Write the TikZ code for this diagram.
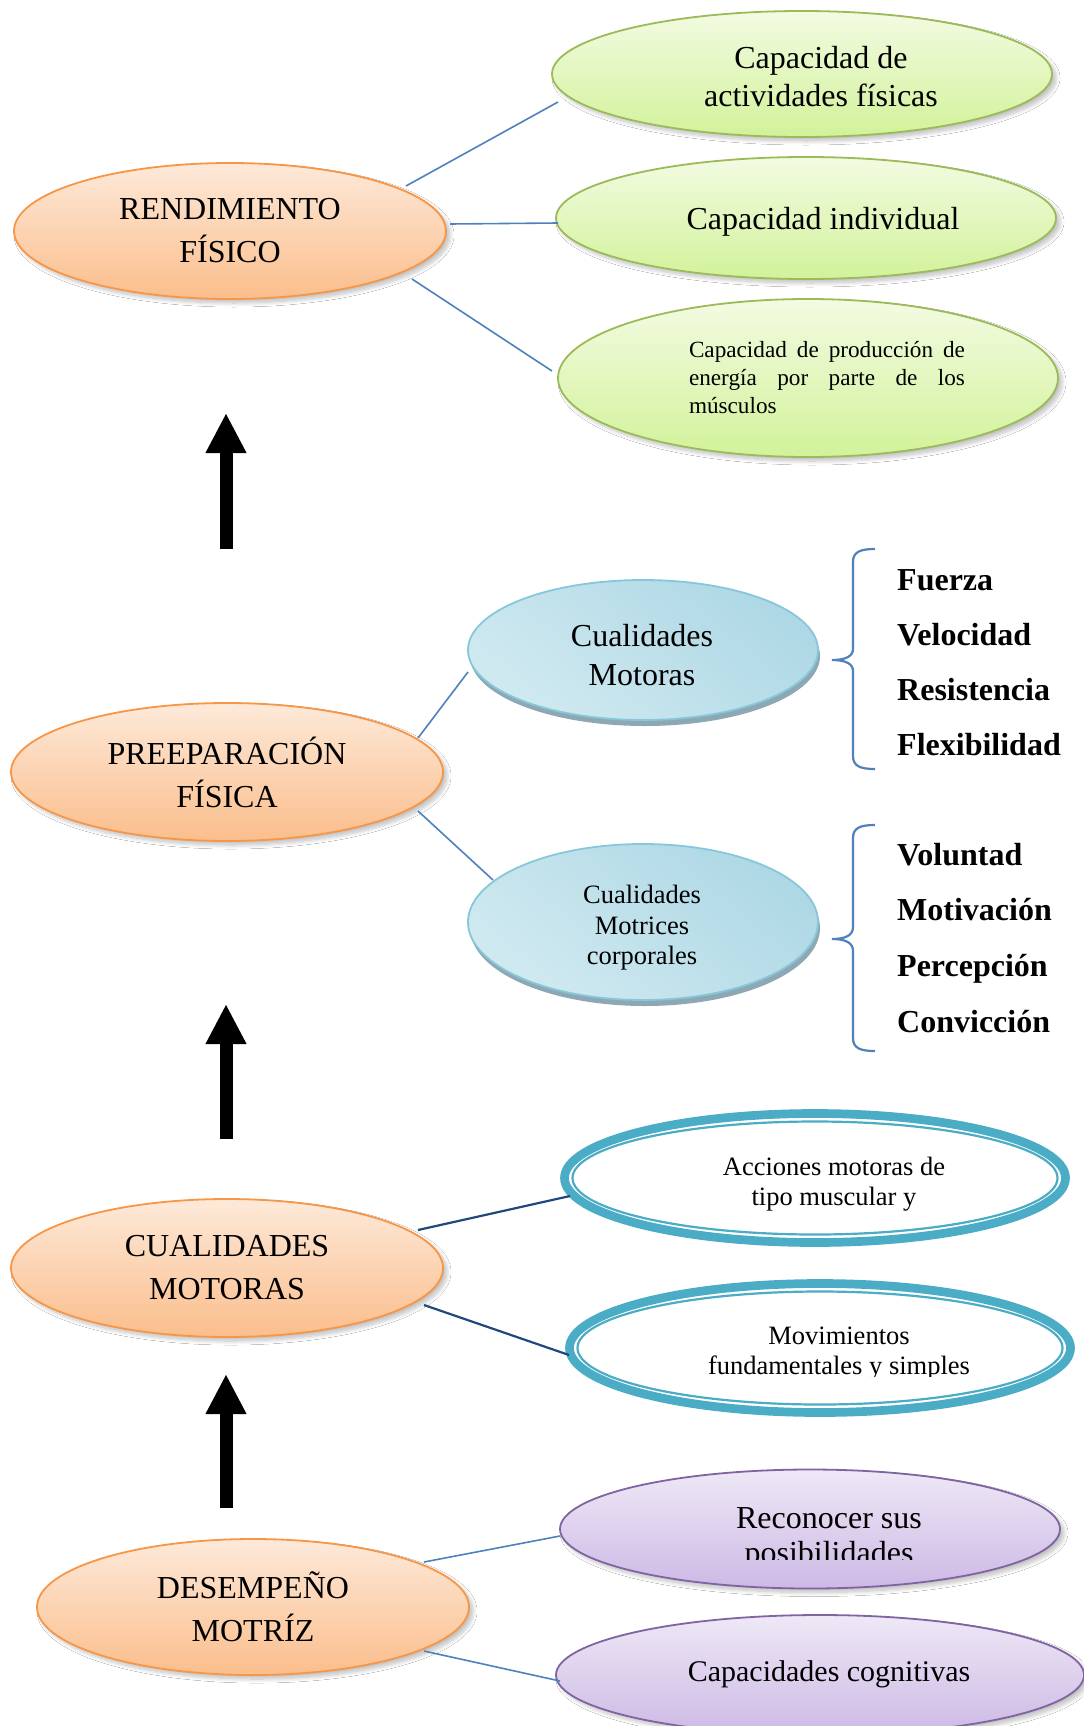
\documentclass[tikz,border=0pt]{standalone}
\usepackage{fontspec}
\setmainfont{Liberation Serif}
\usetikzlibrary{shapes.geometric,arrows.meta,shadows,shadows.blur}

\definecolor{orangeline}{HTML}{F79646}
\definecolor{orangetop}{HTML}{FDE9D9}
\definecolor{orangebot}{HTML}{FBBE8C}
\definecolor{greenline}{HTML}{9BBB59}
\definecolor{greentop}{HTML}{F3FBE2}
\definecolor{greenbot}{HTML}{D2F29A}
\definecolor{blueline}{HTML}{86C7DA}
\definecolor{bluedark}{HTML}{AED8E5}
\definecolor{bluelight}{HTML}{E6F3F8}
\definecolor{bluemid}{HTML}{D0E9F0}
\definecolor{blueshadow}{HTML}{8DA8B4}
\definecolor{tealring}{HTML}{4BACC6}
\definecolor{purpleline}{HTML}{8064A2}
\definecolor{purpletop}{HTML}{EEE8F6}
\definecolor{purplebot}{HTML}{CDB9E5}
\definecolor{linkblue}{HTML}{4F81BD}
\definecolor{linknavy}{HTML}{1F497D}

\newcommand{\fsz}[2]{\fontsize{#1bp}{#2bp}\selectfont}
\newcommand{\nohyph}{\hyphenpenalty=10000\relax\exhyphenpenalty=10000\relax\tolerance=10000\relax}

\begin{document}
\begin{tikzpicture}[x=1bp,y=-1bp,
  oval/.style={ellipse, inner sep=0pt},
  softshadow/.style={blur shadow={shadow xshift=4bp, shadow yshift=-4bp,
      shadow blur radius=4bp, shadow blur steps=10, shadow opacity=25}},
  orangebox/.style={oval, draw=orangeline, line width=1.8bp,
      top color=orangetop, bottom color=orangebot, softshadow,
      font=\fsz{32}{43}, align=center},
  greenbox/.style={oval, draw=greenline, line width=1.8bp,
      top color=greentop, bottom color=greenbot, softshadow},
  bluebox/.style={oval, draw=blueline, line width=1.8bp,
      top color=bluedark, middle color=bluelight, bottom color=bluemid,
      shading angle=-40,
      drop shadow={shadow xshift=2bp, shadow yshift=-6bp, fill=blueshadow, opacity=1}},
  ringbox/.style={oval, draw=tealring, line width=8.7bp, fill=white},
  ringinner/.style={draw=tealring, line width=2.2bp},
  purplebox/.style={oval, draw=purpleline, line width=1.8bp,
      top color=purpletop, bottom color=purplebot, softshadow},
  label/.style={inner sep=0pt, align=center},
  link/.style={draw=linkblue, line width=1.6bp},
  navylink/.style={draw=linknavy, line width=2.2bp},
  bracket/.style={draw=linkblue, line width=2.2bp},
  item/.style={inner sep=0pt, anchor=base west, font=\fsz{32}{38}\bfseries},
  bigarrow/.style={line width=13bp, -{Triangle[length=40bp,width=38bp]}}
]
\useasboundingbox[fill=white] (0,0) rectangle (1083,1726);

% left column: the four main stages
\node[orangebox, minimum width=432bp, minimum height=136bp] (rend) at (230,231) {RENDIMIENTO\\FÍSICO};
\node[orangebox, minimum width=432bp, minimum height=138bp] (prep) at (227,772) {PREEPARACIÓN\\FÍSICA};
\node[orangebox, minimum width=432bp, minimum height=138bp] (cual) at (227,1268) {CUALIDADES\\MOTORAS};
\node[orangebox, minimum width=432bp, minimum height=136bp] (desem) at (253,1607) {DESEMPEÑO\\MOTRÍZ};

% physical performance
\node[greenbox, minimum width=500bp, minimum height=126bp] (g1) at (802,74) {};
\node[label, font=\fsz{32}{38}] (g1t) at (821,77) {Capacidad de\\actividades físicas};
\node[greenbox, minimum width=500bp, minimum height=122bp] (g2) at (806,218) {};
\node[label, font=\fsz{32}{38}] (g2t) at (823,222) {Capacidad individual};
\node[greenbox, minimum width=500bp, minimum height=158bp] (g3) at (808,378) {};
\node[inner sep=0pt, text width=276bp, align=justify, font=\fsz{23.2}{28}\nohyph] (g3t) at (827,378)
  {Capacidad de producción de\linebreak energía por parte de los\linebreak músculos};

% physical preparation
\node[bluebox, minimum width=350bp, minimum height=140bp] (b1) at (643,650) {};
\node[label, font=\fsz{32}{39}] (b1t) at (642,655) {Cualidades\\Motoras};
\node[bluebox, minimum width=350bp, minimum height=156bp] (b2) at (643,922) {};
\node[label, font=\fsz{26.5}{30.5}] (b2t) at (642,928) {Cualidades\\Motrices\\corporales};

\draw[bracket] (875,549) .. controls (860,549) and (853,552) .. (853,562)
  -- (853,649) .. controls (853,656) and (846,660) .. (832,660)
  .. controls (846,660) and (853,664) .. (853,671)
  -- (853,756) .. controls (853,766) and (860,769) .. (875,769);
\node[item] (w1) at (897,590) {Fuerza};
\node[item] (w2) at (897,645) {Velocidad};
\node[item] (w3) at (897,700) {Resistencia};
\node[item] (w4) at (897,755) {Flexibilidad};

\draw[bracket] (875,825) .. controls (860,825) and (853,828) .. (853,838)
  -- (853,927) .. controls (853,935) and (846,939) .. (832,939)
  .. controls (846,939) and (853,943) .. (853,951)
  -- (853,1038) .. controls (853,1048) and (860,1051) .. (875,1051);
\node[item] (w5) at (897,865) {Voluntad};
\node[item] (w6) at (897,920) {Motivación};
\node[item] (w7) at (897,976) {Percepción};
\node[item] (w8) at (897,1032) {Convicción};

% motor qualities
\node[ringbox, minimum width=501bp, minimum height=129bp] (d1) at (815,1178) {};
\draw[ringinner] (d1.center) ellipse [x radius=242.5bp, y radius=56.5bp];
\node[label, font=\fsz{26.5}{30}] (d1t) at (834,1184) {Acciones motoras de\\tipo muscular y};
\node[ringbox, minimum width=501bp, minimum height=129bp] (d2) at (820,1348) {};
\draw[ringinner] (d2.center) ellipse [x radius=242.5bp, y radius=56.5bp];
\begin{scope}
  \clip (600,1300) rectangle (1060,1376);
  \node[label, font=\fsz{26.5}{30}] (d2t) at (839,1354) {Movimientos\\fundamentales y simples};
\end{scope}

% motor performance
\node[purplebox, minimum width=500bp, minimum height=119bp] (p1) at (810,1529) {};
\begin{scope}
  \clip (600,1480) rectangle (1060,1559);
  \node[label, font=\fsz{32}{35.5}] (p1t) at (829,1539) {Reconocer sus\\posibilidades};
\end{scope}
\node[purplebox, minimum width=528bp, minimum height=120bp] (p2) at (820,1675) {};
\node[label, font=\fsz{30}{36}] (p2t) at (829,1674) {Capacidades cognitivas};

% connectors (they stop just short of the shapes)
\draw[link] ([shift={(176,-45)}]rend.center) -- ([shift={(-244,28)}]g1.center);
\draw[link] ([shift={(220,-7)}]rend.center) -- ([shift={(-248,5)}]g2.center);
\draw[link] ([shift={(182,48)}]rend.center) -- ([shift={(-256,-7)}]g3.center);
\draw[link] ([shift={(191,-34)}]prep.center) -- ([shift={(-175,22)}]b1.center);
\draw[link] ([shift={(191,39)}]prep.center) -- ([shift={(-150,-42)}]b2.center);
\draw[navylink] ([shift={(191,-38)}]cual.center) -- ([shift={(-245,18)}]d1.center);
\draw[navylink] ([shift={(197,37)}]cual.center) -- ([shift={(-251,7)}]d2.center);
\draw[link] ([shift={(171,-45)}]desem.center) -- ([shift={(-250,7)}]p1.center);
\draw[link] ([shift={(171,44)}]desem.center) -- ([shift={(-260,6)}]p2.center);

% upward arrows between the stages
\coordinate (a1b) at (226,549); \coordinate (a1t) at (226,413);
\coordinate (a2b) at (226,1139); \coordinate (a2t) at (226,1004);
\coordinate (a3b) at (226,1508); \coordinate (a3t) at (226,1374);
\draw[bigarrow] (a1b) -- (a1t);
\draw[bigarrow] (a2b) -- (a2t);
\draw[bigarrow] (a3b) -- (a3t);
\end{tikzpicture}
\end{document}
